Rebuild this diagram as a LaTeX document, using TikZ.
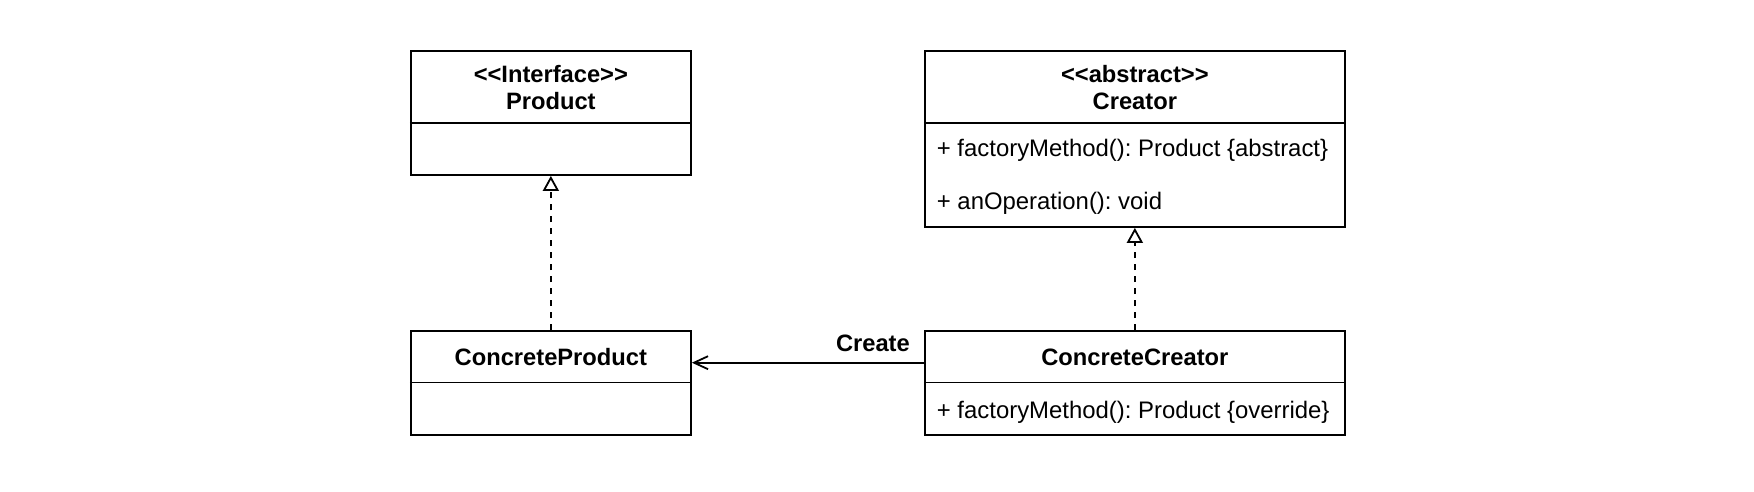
\documentclass[tikz,border=0pt]{standalone}
\usepackage{fontspec}
\setmainfont{Liberation Sans}
\usetikzlibrary{arrows.meta}
\frenchspacing
\begin{document}
\begin{tikzpicture}[x=1pt,y=-1pt,
  ln/.style={line width=1.8pt},
  umlbox/.style={draw, line width=1.8pt, inner sep=0pt, minimum width=#1},
  txt/.style={inner sep=0pt, font=\fontsize{23.9}{25}\selectfont},
  btxt/.style={inner sep=0pt, font=\fontsize{23.7}{25}\selectfont\bfseries},
  realize/.style={ln, dash pattern=on 6.5pt off 5.5pt, -{Triangle[open, length=15pt, width=16pt, fill=white]}},
  assoc/.style={ln, -{Straight Barb[length=14pt, width=13pt]}}
]
\useasboundingbox (0,0) rectangle (1754,492);

% boxes
\node[umlbox=280.3pt, minimum height=124pt] (product) at (550.85,113) {};
\node[umlbox=420.3pt, minimum height=176pt] (creator) at (1134.85,139) {};
\node[umlbox=280.3pt, minimum height=104pt] (cproduct) at (550.85,383) {};
\node[umlbox=420.3pt, minimum height=104pt] (ccreator) at (1134.85,383) {};

% dividers
\draw[ln] (product.west |- 0,122.7) -- (product.east |- 0,122.7);
\draw[ln] (creator.west |- 0,122.7) -- (creator.east |- 0,122.7);
\draw[ln] (cproduct.west |- 0,382.5) -- (cproduct.east |- 0,382.5);
\draw[ln] (ccreator.west |- 0,382.5) -- (ccreator.east |- 0,382.5);

% texts
\node[btxt, anchor=base] (productstereo) at (550.85,82.8) {{<}{<}Interface{>}{>}};
\node[btxt, anchor=base] (productname) at (550.85,109.3) {Product};
\node[btxt, anchor=base] (creatorstereo) at (1134.85,82.8) {{<}{<}abstract{>}{>}};
\node[btxt, anchor=base] (creatorname) at (1134.85,109.3) {Creator};
\node[txt, anchor=base west] (creatorop1) at (936.7,156.7) {+ factoryMethod(): Product \{abstract\}};
\node[txt, anchor=base west] (creatorop2) at (936.7,209.3) {+ anOperation(): void};
\node[btxt, anchor=base] (cproductname) at (550.85,365) {ConcreteProduct};
\node[btxt, anchor=base] (ccreatorname) at (1134.85,365) {ConcreteCreator};
\node[txt, anchor=base west] (ccreatorop1) at (936.7,418.3) {+ factoryMethod(): Product \{override\}};

% connectors
\draw[realize] (cproduct.north) -- (product.south);
\draw[realize] (ccreator.north) -- (creator.south);
\draw[assoc] (ccreator.west |- 0,362.7) -- (cproduct.east |- 0,362.7);
\node[btxt, anchor=base east] (createlbl) at (910,351.7) {Create};
\end{tikzpicture}
\end{document}
